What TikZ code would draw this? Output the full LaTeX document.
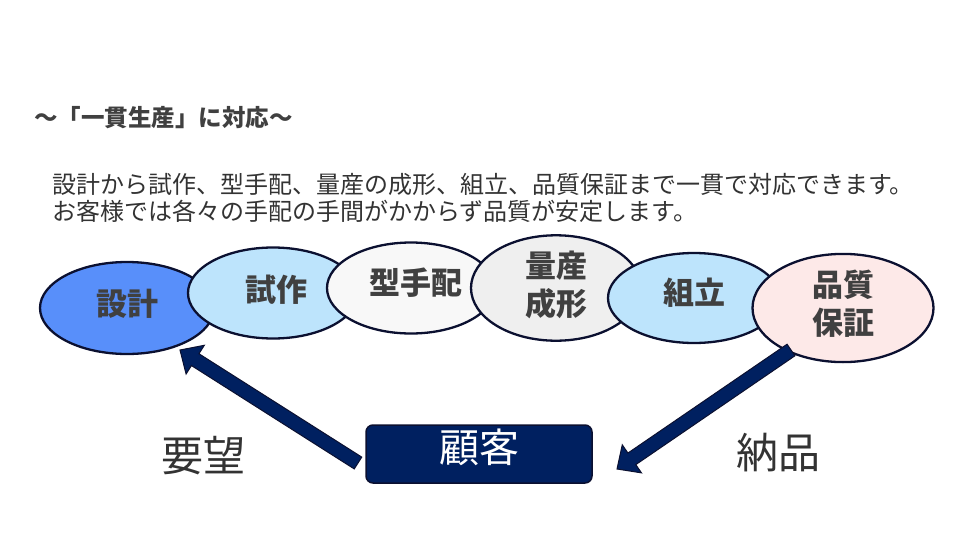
\documentclass[tikz,border=0pt]{standalone}
\usepackage{fontspec}
\setmainfont{Noto Sans CJK JP}
\newfontfamily\jp{Noto Sans CJK JP}
\usetikzlibrary{shapes.geometric,calc}
\definecolor{edgenavy}{RGB}{11,16,48}
\definecolor{navy}{RGB}{0,32,96}
\definecolor{txtgray}{RGB}{64,64,64}
\definecolor{bodygray}{RGB}{51,51,51}
\definecolor{c1}{RGB}{88,143,250}
\definecolor{c2}{RGB}{189,228,252}
\definecolor{c3}{RGB}{248,248,248}
\definecolor{c4}{RGB}{239,239,239}
\definecolor{c6}{RGB}{253,233,232}
\newcommand\blockarr[2]{%
  \path (#1) coordinate (bA) (#2) coordinate (bB) ($(bB)!18pt!(bA)$) coordinate (bH);
  \draw[arrowbody] ($(bA)!7pt!90:(bB)$) -- ($(bH)!7pt!-90:(bA)$) -- ($(bH)!17pt!-90:(bA)$) -- (bB)
    -- ($(bH)!17pt!90:(bA)$) -- ($(bH)!7pt!90:(bA)$) -- ($(bA)!7pt!-90:(bB)$) -- cycle;}
\begin{document}
\begin{tikzpicture}[x=1pt,y=-1pt,
  stage/.style={ellipse,draw=edgenavy,line width=2.3pt,inner sep=0pt,
    font=\jp\bfseries\fontsize{31}{38}\selectfont,text=txtgray,align=center},
  arrowbody/.style={fill=navy,draw=edgenavy,line width=1pt,line join=miter},
  plain/.style={inner sep=0pt,text=bodygray,font=\jp\fontsize{24}{27}\selectfont},
  bigtxt/.style={inner sep=0pt,text=bodygray,font=\jp\fontsize{42}{48}\selectfont}]
\useasboundingbox[fill=white] (0,0) rectangle (965,543);

\node[inner sep=0pt,anchor=west,text=txtgray,font=\jp\bfseries\fontsize{23.5}{28}\selectfont] (title) at (34,118) {～「一貫生産」に対応～};
\node[plain,anchor=west] (line1) at (52,184) {設計から試作、型手配、量産の成形、組立、品質保証まで一貫で対応できます。};
\node[plain,anchor=west] (line2) at (52,211) {お客様では各々の手配の手間がかからず品質が安定します。};

\node[stage,fill=c1,minimum width=174pt,minimum height=92pt] (s1) at (127,308) {\raisebox{0pt}[27pt][12pt]{設計}};
\node[stage,fill=c2,minimum width=170pt,minimum height=91pt] (s2) at (273,293) {\hspace*{6pt}\raisebox{0pt}[27pt][10pt]{試作}};
\node[stage,fill=c3,minimum width=168pt,minimum height=91pt] (s3) at (411,288) {\hspace*{10pt}\raisebox{0pt}[27pt][14pt]{型手配}};
\node[stage,fill=c4,minimum width=170pt,minimum height=90pt] (s4) at (556,288) {量産\\\raisebox{0pt}[27pt][10pt]{成形}};
\node[stage,fill=c2,minimum width=172pt,minimum height=90pt] (s5) at (694,298) {\raisebox{0pt}[27pt][14pt]{組立}};
\node[stage,fill=c6,minimum width=181pt,minimum height=91pt] (s6) at (843,308) {品質\\\raisebox{0pt}[27pt][12pt]{保証}};

\node[draw=edgenavy,fill=navy,line width=1.5pt,rounded corners=7pt,minimum width=226pt,minimum height=58pt,
  inner sep=0pt,text=white,font=\jp\fontsize{40}{46}\selectfont] (cust) at (479,454) {\raisebox{0pt}[35pt][18pt]{顧客}};

\node[bigtxt] (req) at (203,456) {要望};
\node[bigtxt] (dlv) at (778,453) {納品};

\coordinate (reqTail) at (358,463);
\coordinate (reqTip) at (180,350);
\coordinate (dlvTail) at (791,350);
\coordinate (dlvTip) at (617,469);
\blockarr{reqTail}{reqTip}
\blockarr{dlvTail}{dlvTip}
\end{tikzpicture}
\end{document}
